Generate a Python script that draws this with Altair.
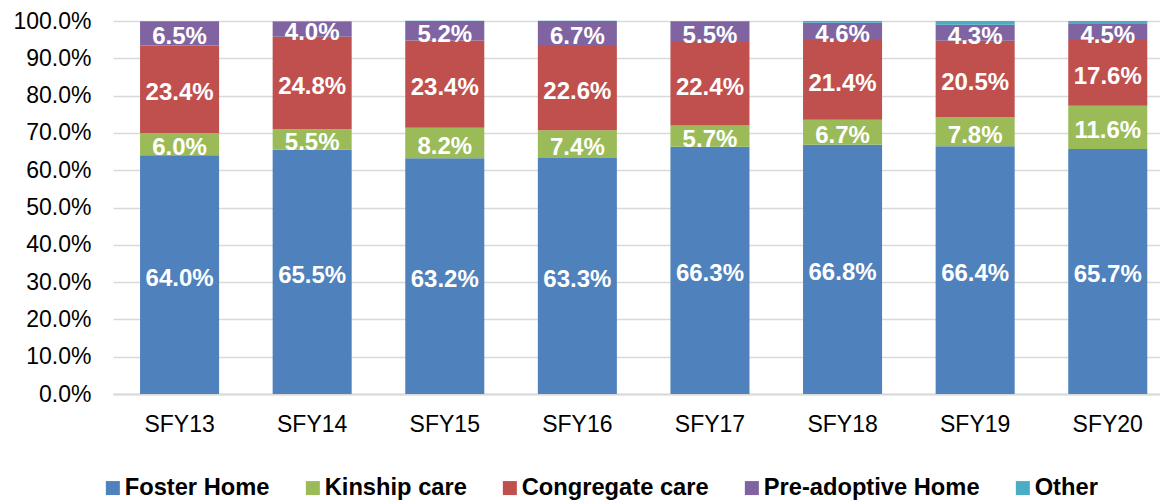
import altair as alt
import pandas as pd

years = ["SFY13", "SFY14", "SFY15", "SFY16", "SFY17", "SFY18", "SFY19", "SFY20"]
series = ["Foster Home", "Kinship care", "Congregate care", "Pre-adoptive Home", "Other"]
foster = [64.0, 65.5, 63.2, 63.3, 66.3, 66.8, 66.4, 65.7]
kinship = [6.0, 5.5, 8.2, 7.4, 5.7, 6.7, 7.8, 11.6]
congregate = [23.4, 24.8, 23.4, 22.6, 22.4, 21.4, 20.5, 17.6]
preadoptive = [6.5, 4.0, 5.2, 6.7, 5.5, 4.6, 4.3, 4.5]
other = [0.1, 0.2, 0.1, 0.1, 0.1, 0.5, 1.0, 0.6]
y_ticks = [0, 10, 20, 30, 40, 50, 60, 70, 80, 90, 100]
colors = ["#4F81BD", "#9BBB59", "#C0504D", "#8064A2", "#4BACC6"]

rows = []
for i, y in enumerate(years):
    for k, (s, vals) in enumerate(zip(series, [foster, kinship, congregate, preadoptive, other])):
        rows.append({"year": y, "series": s, "value": vals[i], "ord": k})
df = pd.DataFrame(rows)

FONT = "Liberation Sans"

base = alt.Chart(df).transform_stack(
    stack="value", groupby=["year"], as_=["y0", "y1"],
    sort=[alt.SortField("ord", order="ascending")]
).transform_calculate(
    mid="(datum.y0 + datum.y1) / 2",
    label="format(datum.value, '.1f') + '%'"
)

xaxis = alt.Axis(labelAngle=0, labelFontSize=23, labelColor="#000000",
                 labelFont=FONT, ticks=False, labelPadding=19,
                 domainColor="#d9d9d9", domainWidth=2, grid=False)
xscale = alt.Scale(paddingInner=0.404, paddingOuter=0.15, align=0.68)

yaxis = alt.Axis(values=y_ticks, tickCount=30,
                 labelExpr="format(datum.value, '.1f') + '%'",
                 labelFontSize=23, labelColor="#000000", labelFont=FONT,
                 labelOverlap=False, labelBound=False,
                 ticks=False, domain=False, labelPadding=22,
                 gridColor="#d9d9d9", gridWidth=1.5)
yscale = alt.Scale(domain=[0, 100], nice=False)

bars = base.mark_bar().encode(
    x=alt.X("year:N", sort=years, title=None, scale=xscale, axis=xaxis),
    y=alt.Y("y0:Q", title=None, scale=yscale, axis=yaxis),
    y2="y1:Q",
    color=alt.Color("series:N",
                    scale=alt.Scale(domain=series, range=colors),
                    legend=alt.Legend(title=None, orient="none", direction="horizontal",
                                      columns=5, legendX=-12, legendY=455,
                                      symbolType="square", symbolSize=196,
                                      symbolStrokeWidth=0, labelFontSize=23.7,
                                      labelFont=FONT, labelFontWeight="bold",
                                      labelColor="#000000", labelOffset=0,
                                      labelLimit=0,
                                      columnPadding=31, padding=0)),
)

texts = base.transform_filter("datum.series != 'Other'").mark_text(
    color="white", fontSize=24, fontWeight="bold", font=FONT, baseline="middle", dy=4
).encode(
    x=alt.X("year:N", sort=years, title=None, scale=xscale, axis=xaxis),
    y=alt.Y("mid:Q", title=None, scale=yscale, axis=yaxis),
    text="label:N",
)

chart = alt.layer(bars, texts).properties(
    width=1047, height=373,
    padding={"left": 105, "top": 13, "right": 0, "bottom": 106},
    autosize=alt.AutoSizeParams(type="none"),
).configure_view(stroke=None)

chart.save("out.html", embed_options={"renderer": "svg", "actions": False})
